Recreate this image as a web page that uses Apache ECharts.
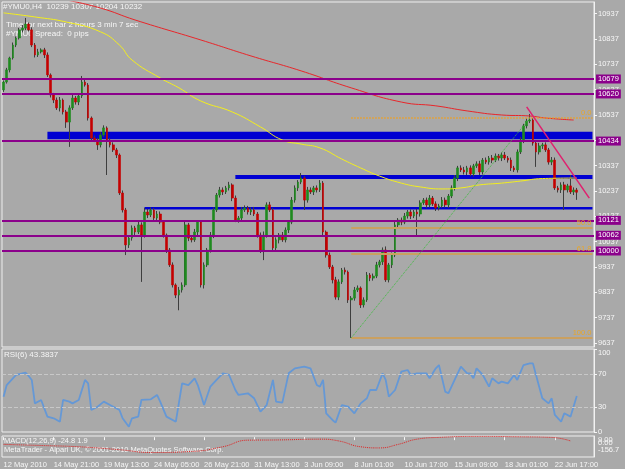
<!DOCTYPE html>
<html>
<head>
<meta charset="utf-8">
<script src="https://cdn.jsdelivr.net/npm/echarts@6/dist/echarts.min.js"></script>
<style>
  html, body { margin: 0; padding: 0; background: #a9a9a9; }
  #main { width: 625px; height: 469px; }
</style>
</head>
<body>
<div id="main"></div>
<script>
// #YMU0 H4 bars (price units)
const firstOpen = 10636;
const closes = [
  10667, 10715, 10762, 10813, 10841, 10873, 10880, 10896, 10873, 10813,
  10774, 10786, 10794, 10774, 10695, 10616, 10596, 10565, 10596, 10549,
  10509, 10565, 10604, 10588, 10612, 10667, 10655, 10525, 10446, 10438,
  10419, 10458, 10486, 10438, 10419, 10399, 10379, 10229, 10162, 10024,
  10051, 10091, 10075, 10103, 10063, 10154, 10142, 10162, 10130, 10146,
  10114, 10063, 10004, 9945, 9866, 9826, 9846, 9866, 10103, 10051,
  10044, 10075, 10114, 9866, 9945, 10004, 10063, 10162, 10221, 10241,
  10233, 10249, 10261, 10209, 10122, 10130, 10162, 10170, 10154, 10162,
  10146, 10063, 10004, 10063, 10182, 10162, 10012, 10044, 10063, 10044,
  10083, 10114, 10201, 10249, 10272, 10288, 10201, 10241, 10233, 10249,
  10241, 10268, 10075, 9984, 9937, 9886, 9818, 9878, 9925, 9917,
  9807, 9814, 9846, 9854, 9787, 9807, 9905, 9893, 9901, 9945,
  9957, 10004, 9886, 9945, 9984, 10103, 10122, 10114, 10138, 10154,
  10138, 10154, 10146, 10190, 10201, 10182, 10209, 10186, 10170, 10178,
  10201, 10182, 10217, 10249, 10288, 10328, 10320, 10312, 10328, 10304,
  10336, 10344, 10312, 10359, 10351, 10367, 10359, 10375, 10367, 10379,
  10367, 10359, 10328, 10320, 10391, 10438, 10494, 10513, 10517, 10426,
  10391, 10415, 10419, 10399, 10351, 10359, 10249, 10241, 10261, 10241,
  10257, 10233, 10241, 10232
];
// wick lengths above / below the body, in points
const wickUp = [
  6, 8, 5, 10, 6, 8, 12, 24, 6, 10,
  8, 12, 6, 8, 10, 6, 8, 10, 12, 6,
  8, 10, 12, 8, 6, 24, 10, 8, 6, 10,
  8, 12, 10, 6, 8, 10, 8, 6, 10, 8,
  12, 10, 8, 14, 10, 16, 12, 10, 8, 12,
  10, 8, 6, 8, 10, 6, 12, 10, 14, 8,
  10, 12, 8, 6, 10, 8, 12, 10, 8, 12,
  10, 8, 12, 6, 10, 8, 12, 10, 8, 10,
  12, 8, 10, 14, 10, 12, 8, 10, 8, 12,
  10, 8, 12, 10, 8, 20, 8, 12, 10, 8,
  10, 12, 8, 6, 10, 8, 12, 10, 8, 10,
  6, 8, 12, 10, 6, 10, 12, 8, 10, 12,
  8, 10, 14, 8, 10, 12, 8, 10, 12, 8,
  10, 8, 12, 10, 8, 10, 12, 8, 10, 8,
  12, 10, 8, 10, 12, 8, 10, 12, 8, 10,
  8, 10, 12, 8, 10, 8, 12, 10, 8, 10,
  12, 8, 10, 8, 10, 12, 8, 10, 24, 8,
  10, 12, 8, 10, 8, 12, 10, 8, 10, 12,
  8, 43, 10, 8
];
const wickDown = [
  8, 6, 10, 6, 8, 6, 10, 8, 6, 8,
  10, 8, 6, 12, 8, 10, 12, 8, 14, 10,
  23, 98, 8, 10, 12, 8, 6, 10, 12, 8,
  20, 10, 8, 138, 10, 8, 12, 8, 10, 40,
  12, 10, 14, 8, 185, 10, 12, 8, 10, 14,
  8, 10, 12, 8, 10, 12, 60, 10, 8, 12,
  10, 8, 12, 10, 14, 8, 10, 12, 8, 10,
  12, 8, 10, 12, 8, 10, 12, 8, 10, 12,
  8, 10, 12, 40, 10, 8, 12, 10, 14, 8,
  10, 12, 8, 10, 12, 8, 39, 10, 8, 12,
  10, 8, 12, 10, 8, 14, 10, 12, 8, 10,
  12, 150, 10, 8, 12, 10, 8, 12, 10, 8,
  10, 12, 8, 10, 12, 8, 10, 12, 8, 10,
  12, 8, 83, 10, 8, 12, 10, 8, 12, 10,
  8, 10, 12, 8, 10, 12, 8, 10, 12, 8,
  10, 8, 12, 10, 8, 10, 12, 8, 10, 12,
  8, 10, 12, 8, 10, 8, 12, 10, 8, 10,
  59, 10, 12, 8, 10, 12, 8, 10, 12, 79,
  10, 8, 12, 30
];

const priceTicks = [9637, 9737, 9837, 9937, 10037, 10137, 10237, 10337, 10437, 10537, 10637, 10737, 10837, 10937];
const timeLabels = ['12 May 2010', '14 May 21:00', '19 May 13:00', '24 May 05:00', '26 May 21:00', '31 May 13:00',
  '3 Jun 09:00', '8 Jun 01:00', '10 Jun 17:00', '15 Jun 09:00', '18 Jun 01:00', '22 Jun 17:00'];
const labelStep = 16;
const slotCount = 189; // bars + empty shift on the right

// moving averages: [bar, price]
const yellowMA = [[0, 10940], [10, 10924], [20, 10904], [31, 10865], [37, 10813], [41, 10754], [50, 10683],
  [56, 10644], [63, 10592], [73, 10549], [82, 10490], [89, 10438], [95, 10422], [101, 10407], [108, 10363],
  [114, 10328], [120, 10296], [127, 10268], [133, 10253], [140, 10245], [146, 10249], [152, 10261],
  [159, 10268], [165, 10276], [172, 10286], [183, 10288]];
const redMA = [[20, 10991], [31, 10959], [42, 10912], [63, 10833], [79, 10770], [95, 10711], [111, 10644],
  [127, 10588], [138, 10573], [148, 10553], [159, 10537], [168, 10533], [173, 10525], [182, 10517]];

// chart objects
const purpleLevels = [10679, 10620, 10434, 10121, 10062, 10000];
const blueBands = [[14, 10471, 10441], [74, 10300, 10284], [45, 10174, 10164]]; // [startBar, top, bottom]
const fibStartBar = 111;
const fibNames = ['0.0', '50.0', '61.8', '100.0'];
const fibPrices = [10525, 10091, 9989, 9657];
const fibTrend = [[111, 9657], [168, 10525]];
const pinkTrend = [[167, 10569], [187, 10209]];
const lastPrice = 10232;

// RSI(6): [bar, value]
const rsiPts = [[0, 42.6], [1, 56.6], [4, 68.7], [7, 71.5], [8, 67.5], [9, 62.7], [10, 34.5], [12, 38.6], [14, 18.5],
  [16, 16.5], [18, 12.4], [19, 38.6], [21, 36.6], [22, 34.5], [24, 38.6], [26, 62.7], [27, 58.6], [28, 26.5],
  [30, 30.5], [32, 36.6], [34, 32.5], [37, 26.5], [38, 16.5], [40, 6.4], [41, 16.5], [43, 18.5], [44, 38.6],
  [47, 39.4], [49, 44.6], [50, 36.6], [52, 18.5], [55, 12.4], [57, 58.6], [59, 56.6], [61, 64.7], [62, 56.6],
  [64, 32.5], [66, 54.6], [68, 62.7], [70, 70.7], [72, 68.7], [74, 50.6], [75, 44.6], [78, 46.6], [80, 40.6],
  [82, 24.5], [84, 32.5], [86, 62.7], [87, 36.6], [89, 35.4], [91, 70.7], [93, 76.7], [96, 78.7], [98, 76.7],
  [100, 56.6], [101, 54.6], [102, 62.7], [103, 22.5], [105, 14.5], [106, 11.3], [108, 32.5], [110, 30.5],
  [112, 22.5], [114, 34.5], [116, 40.6], [117, 50.6], [119, 50.6], [121, 70.7], [122, 62.7], [123, 42.6],
  [125, 50.6], [127, 72.7], [129, 74.7], [130, 68.7], [132, 70.7], [135, 70.7], [136, 64.7], [138, 76.7],
  [139, 80.7], [141, 48.6], [142, 46.6], [144, 62.7], [146, 78.7], [148, 70.7], [149, 70.7], [150, 64.7],
  [151, 76.7], [153, 68.7], [155, 54.6], [156, 64.7], [158, 58.6], [159, 60.7], [161, 58.6], [163, 68.7],
  [164, 62.7], [166, 80.7], [168, 82.7], [169, 82.7], [171, 54.6], [172, 40.6], [174, 34.5], [175, 40.6],
  [176, 20.5], [178, 12.4], [179, 22.5], [181, 18.5], [183, 43.4]];
const rsiTicks = [0, 30, 70, 100];

// MACD signal line: [bar, value]
const macdSignal = [[0, -57], [12, -66], [24, -76], [37, -99], [47, -121], [60, -113], [70, -76], [78, -24],
  [88, -22], [101, -16], [107, -30], [114, -76], [120, -85], [126, -57], [132, -16], [139, -2], [152, 6],
  [164, 3], [175, -2], [181, -30]];

const FONT = 'Liberation Sans';
const TXT = '#f6f6f6';

const cats = [];
for (let i = 0; i < slotCount; i++) cats.push(String(i));

const opens = [firstOpen].concat(closes.slice(0, -1));
const wickData = closes.map((c, i) => {
  const o = opens[i];
  return [o, c, Math.min(o, c) - wickDown[i], Math.max(o, c) + wickUp[i]];
});
const bodyData = closes.map((c, i) => {
  const o = opens[i];
  return [o, c, Math.min(o, c), Math.max(o, c)];
});

const levelLines = purpleLevels.map(v => ({
  yAxis: v,
  lineStyle: { color: '#8b008b', width: 2, type: 'solid' },
  label: {
    show: true, position: 'end', distance: 2, formatter: String(v),
    backgroundColor: '#8b008b', color: '#fff', padding: [1, 2, 0, 2], fontSize: 7.5, fontFamily: FONT
  }
}));
fibPrices.forEach((v, k) => {
  levelLines.push([
    {
      coord: [fibStartBar, v],
      lineStyle: k === 0 ? { color: '#f0a020', width: 1.5, type: 'dotted' } : { color: '#caa060', width: 2, type: 'solid' },
      label: { show: true, position: 'insideEndTop', distance: 1, formatter: fibNames[k], color: '#e8a628', fontSize: 7.5, fontFamily: FONT }
    },
    { coord: [slotCount - 1, v] }
  ]);
});
levelLines.push([
  { coord: fibTrend[0], lineStyle: { color: '#3cbc3c', width: 1, type: 'dotted' }, label: { show: false } },
  { coord: fibTrend[1] }
]);
levelLines.push([
  { coord: pinkTrend[0], lineStyle: { color: '#e0206e', width: 1.5, type: 'solid' }, label: { show: false } },
  { coord: pinkTrend[1] }
]);
levelLines.push({
  yAxis: lastPrice,
  lineStyle: { opacity: 0 },
  label: {
    show: true, position: 'end', distance: 2, formatter: String(lastPrice),
    backgroundColor: '#ffffff', color: '#505050', padding: [1, 2, 0, 2], fontSize: 7.5, fontFamily: FONT
  }
});

const bands = blueBands.map(b => [
  { xAxis: b[0], yAxis: b[1] },
  { xAxis: slotCount - 1, yAxis: b[2] }
]);

const hiddenX = gi => ({
  type: 'category', gridIndex: gi, data: cats, boundaryGap: true,
  axisLine: { show: false }, axisTick: { show: false }, axisLabel: { show: false }, splitLine: { show: false }
});
const showLabel = idx => idx % labelStep === 0 && idx / labelStep < timeLabels.length;

const chart = echarts.init(document.getElementById('main'), null, { renderer: 'canvas' });
chart.setOption({
  animation: false,
  backgroundColor: '#a9a9a9',
  textStyle: { fontFamily: FONT },
  grid: [
    { left: 2, right: 31, top: 2, height: 345, show: true, borderColor: '#eeeeee', borderWidth: 1 },
    { left: 2, right: 31, top: 349, height: 83, show: true, borderColor: '#eeeeee', borderWidth: 1 },
    { left: 2, right: 31, top: 436, height: 21, show: true, borderColor: '#eeeeee', borderWidth: 1 }
  ],
  xAxis: [
    hiddenX(0),
    hiddenX(1),
    {
      type: 'category', gridIndex: 2, data: cats, boundaryGap: true,
      axisLine: { show: false },
      axisTick: { show: true, interval: showLabel, alignWithLabel: true, length: 3, lineStyle: { color: TXT } },
      axisLabel: {
        interval: showLabel, align: 'left', margin: 4, color: TXT, fontSize: 7.5, fontFamily: FONT,
        formatter: (v, idx) => timeLabels[idx / labelStep]
      },
      splitLine: { show: false }
    }
  ],
  yAxis: [
    {
      type: 'value', gridIndex: 0, position: 'right', min: 9621, max: 10983,
      axisLine: { show: true, lineStyle: { color: '#f2f2f2' } },
      axisTick: { show: true, customValues: priceTicks, length: 3, lineStyle: { color: TXT } },
      axisLabel: {
        customValues: priceTicks, color: TXT, fontSize: 7.5, margin: 4, fontFamily: FONT,
        formatter: v => String(v)
      },
      splitLine: { show: false }
    },
    {
      type: 'value', gridIndex: 1, position: 'right', min: 0, max: 100,
      axisLine: { show: true, lineStyle: { color: '#f2f2f2' } },
      axisTick: { show: true, customValues: rsiTicks, length: 3, lineStyle: { color: TXT } },
      axisLabel: {
        customValues: rsiTicks, color: TXT, fontSize: 7.5, margin: 4, fontFamily: FONT,
        formatter: v => (v === 100 ? '{t|100}' : String(v)),
        rich: { t: { color: TXT, fontSize: 7.5, fontFamily: FONT, padding: [8, 0, 0, 0] } }
      },
      splitLine: { show: false }
    },
    {
      type: 'value', gridIndex: 2, position: 'right', min: -156.7, max: 9,
      axisLine: { show: true, lineStyle: { color: '#f2f2f2' } },
      axisTick: { show: false }, axisLabel: { show: false }, splitLine: { show: false }
    }
  ],
  series: [
    {
      name: 'wicks', type: 'candlestick', xAxisIndex: 0, yAxisIndex: 0, data: wickData, barWidth: 1, z: 2,
      itemStyle: { color: '#3e3e3e', color0: '#3e3e3e', borderColor: '#3e3e3e', borderColor0: '#3e3e3e', borderWidth: 1 }
    },
    {
      name: 'bodies', type: 'candlestick', xAxisIndex: 0, yAxisIndex: 0, data: bodyData, barWidth: 2.2, z: 3,
      itemStyle: { color: '#1f8a1f', color0: '#c40000', borderColor: '#1f8a1f', borderColor0: '#c40000', borderWidth: 0.6 }
    },
    {
      name: 'MA yellow', type: 'line', xAxisIndex: 0, yAxisIndex: 0, data: yellowMA, smooth: true, showSymbol: false, z: 4,
      lineStyle: { color: '#f4ef1c', width: 1 }
    },
    {
      name: 'MA red', type: 'line', xAxisIndex: 0, yAxisIndex: 0, data: redMA, smooth: true, showSymbol: false, z: 4,
      lineStyle: { color: '#e8262a', width: 1 }
    },
    {
      name: 'objects', type: 'line', xAxisIndex: 0, yAxisIndex: 0, data: [], z: 5,
      markArea: { silent: true, itemStyle: { color: '#0000d2', opacity: 1 }, data: bands },
      markLine: { silent: true, symbol: ['none', 'none'], animation: false, data: levelLines }
    },
    {
      name: 'RSI(6)', type: 'line', xAxisIndex: 1, yAxisIndex: 1, data: rsiPts, showSymbol: false, z: 4,
      lineStyle: { color: '#6598d6', width: 1.8 },
      markLine: {
        silent: true, symbol: ['none', 'none'], label: { show: false },
        lineStyle: { color: '#c8c8c8', type: 'dashed', width: 1 },
        data: [{ yAxis: 30 }, { yAxis: 70 }]
      }
    },
    {
      name: 'MACD signal', type: 'line', xAxisIndex: 2, yAxisIndex: 2, data: macdSignal, smooth: true, showSymbol: false, z: 4,
      lineStyle: { color: '#e02020', width: 1, type: 'dotted' }
    }
  ],
  graphic: [
    { type: 'text', left: 3, top: 3, style: { text: '#YMU0,H4  10239 10307 10204 10232', fill: TXT, fontSize: 8, fontFamily: FONT } },
    { type: 'text', left: 6, top: 21, style: { text: 'Time for next bar 2 hours 3 min 7 sec', fill: TXT, fontSize: 8, fontFamily: FONT } },
    { type: 'text', left: 6, top: 30, style: { text: '#YMU0 Spread:  0 pips', fill: TXT, fontSize: 8, fontFamily: FONT } },
    { type: 'text', left: 4, top: 351, style: { text: 'RSI(6) 43.3837', fill: TXT, fontSize: 8, fontFamily: FONT } },
    { type: 'text', left: 4, top: 437, style: { text: 'MACD(12,26,9) -24.8 1.9', fill: TXT, fontSize: 7.5, fontFamily: FONT } },
    { type: 'text', left: 4, top: 446, style: { text: 'MetaTrader - Alpari UK, \u00a9 2001-2010 MetaQuotes Software Corp.', fill: TXT, fontSize: 7.5, fontFamily: FONT } },
    { type: 'text', left: 598, top: 436, style: { text: '9.00', fill: TXT, fontSize: 7.5, fontFamily: FONT } },
    { type: 'text', left: 598, top: 439, style: { text: '0.00', fill: TXT, fontSize: 7.5, fontFamily: FONT } },
    { type: 'text', left: 598, top: 446, style: { text: '-156.7', fill: TXT, fontSize: 7.5, fontFamily: FONT } }
  ]
});
</script>
</body>
</html>
